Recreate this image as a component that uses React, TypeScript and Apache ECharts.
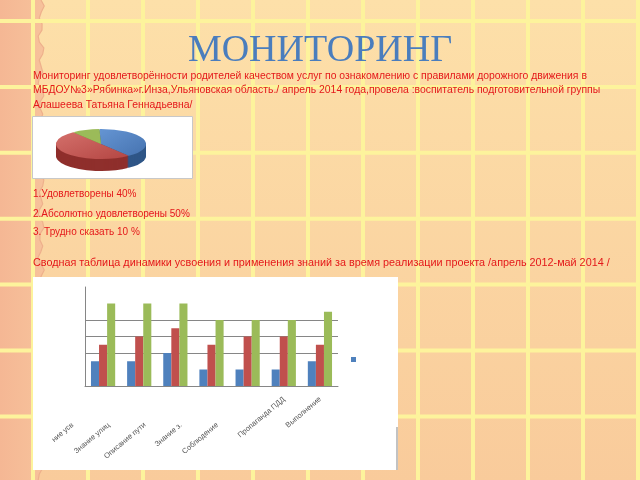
import React, { useEffect, useRef } from "react";
import * as echarts from "echarts";

// ---------- data ----------
const titleText = "МОНИТОРИНГ";
const headerLines = [
  "Мониторинг удовлетворённости родителей качеством услуг по ознакомлению с правилами дорожного движения в",
  "МБДОУ№3»Рябинка»г.Инза,Ульяновская область./ апрель 2014 года,провела :воспитатель подготовительной группы",
  "Алашеева Татьяна Геннадьевна/",
];
const pieNames = ["Удовлетворены", "Абсолютно удовлетворены", "Трудно сказать"];
const pieValues = [40, 50, 10];
const pieLegendLines = [
  "1.Удовлетворены 40%",
  "2.Абсолютно удовлетворены 50%",
  "3. Трудно сказать 10 %",
];
const tableTitle =
  "Сводная таблица динамики усвоения и применения знаний за время реализации проекта /апрель 2012-май 2014 /";

const categories = [
  "ние усв",
  "Знание улиц",
  "Описание пути",
  "Знание з.",
  "Соблюдение",
  "Пропаганда ПДД",
  "Выполнение",
];
const seriesNames = ["Ряд 1", "Ряд 2", "Ряд 3"];
const blueValues = [1.5, 1.5, 2, 1, 1, 1, 1.5];
const redValues = [2.5, 3, 3.5, 2.5, 3, 3, 2.5];
const greenValues = [5, 5, 5, 4, 4, 4, 4.5];
const yMin = 0;
const yMax = 6;
const yInterval = 1;

// ---------- styles ----------
const RED_TEXT = "#e4181a";
const BAR_COLORS = ["#4f81bd", "#c0504d", "#9bbb59"];
const PIE_TOP = [
  new echarts.graphic.LinearGradient(0, 0, 1, 1, [
    { offset: 0, color: "#6595d3" },
    { offset: 1, color: "#4673b0" },
  ]),
  new echarts.graphic.LinearGradient(0, 0, 1, 1, [
    { offset: 0, color: "#d4706b" },
    { offset: 1, color: "#b44643" },
  ]),
  "#9bbb59",
];
const PIE_SIDE = ["#2f5687", "#8f2f2c", "#6c8a35"];
const PIE_RX = 45;
const PIE_RY = 15;
const PIE_SCALE = PIE_RY / PIE_RX;
const PIE_DEPTH = 12; // screen px

function buildBackground() {
  const els: any[] = [];
  els.push({
    type: "rect",
    z: -20,
    shape: { x: 0, y: 0, width: 640, height: 480 },
    style: {
      fill: new echarts.graphic.LinearGradient(0, 0, 0, 1, [
        { offset: 0, color: "#fde0a9" },
        { offset: 1, color: "#f9cb9b" },
      ]),
    },
  });
  // torn left strip
  const edge: number[][] = [];
  for (let y = 0; y <= 480; y += 6) {
    const x = 41 + 2.5 * Math.sin((y / 22) * Math.PI * 2) + 1 * Math.sin(y / 7);
    edge.push([x, y]);
  }
  els.push({
    type: "polygon",
    z: -19,
    shape: { points: [[0, 0], ...edge, [0, 480]] },
    style: {
      fill: new echarts.graphic.LinearGradient(0, 0, 1, 0, [
        { offset: 0, color: "#f5b794" },
        { offset: 1, color: "#f7c29b" },
      ]),
    },
  });
  els.push({
    type: "polyline",
    z: -19,
    shape: { points: edge },
    style: { stroke: "#eeb08c", lineWidth: 1.2, fill: null },
  });
  for (let k = 0; k < 12; k++) {
    const x = 33 + 55 * k;
    els.push({
      type: "line",
      z: -18,
      shape: { x1: x, y1: 0, x2: x, y2: 480 },
      style: { stroke: "#fdf39c", lineWidth: 4 },
    });
  }
  for (let k = 0; k < 7; k++) {
    const y = 21 + 65.9 * k;
    els.push({
      type: "line",
      z: -18,
      shape: { x1: 0, y1: y, x2: 640, y2: y },
      style: { stroke: "#fdf39c", lineWidth: 4 },
    });
  }
  // white boxes
  els.push({
    type: "rect",
    z: -10,
    shape: { x: 32.5, y: 116.5, width: 160, height: 62 },
    style: { fill: "#ffffff", stroke: "#c8c8c8", lineWidth: 1 },
  });
  els.push({
    type: "rect",
    z: -10,
    shape: { x: 33, y: 277, width: 365, height: 193 },
    style: { fill: "#ffffff" },
  });
  els.push({
    type: "line",
    z: -9,
    shape: { x1: 397, y1: 427, x2: 397, y2: 470 },
    style: { stroke: "#9a9a9a", lineWidth: 1.2 },
  });
  // texts
  els.push({
    type: "text",
    x: 320,
    y: 67,
    style: {
      text: titleText,
      font: "38px 'Liberation Serif'",
      fill: "#4a7dbd",
      textAlign: "center",
      textVerticalAlign: "bottom",
    },
  });
  const headerY = [75, 89.5, 104];
  headerLines.forEach((t, i) => {
    els.push({
      type: "text",
      x: 33,
      y: headerY[i],
      style: {
        text: t,
        font: "10.4px 'Liberation Sans'",
        fill: RED_TEXT,
        textAlign: "left",
        textVerticalAlign: "middle",
      },
    });
  });
  const legY = [193, 213, 231];
  pieLegendLines.forEach((t, i) => {
    els.push({
      type: "text",
      x: 33,
      y: legY[i],
      style: {
        text: t,
        font: "10px 'Liberation Sans'",
        fill: RED_TEXT,
        textAlign: "left",
        textVerticalAlign: "middle",
      },
    });
  });
  els.push({
    type: "text",
    x: 33,
    y: 262,
    style: {
      text: tableTitle,
      font: "10.8px 'Liberation Sans'",
      fill: RED_TEXT,
      textAlign: "left",
      textVerticalAlign: "middle",
    },
  });
  return els;
}

function buildMain(): any {
  const values = [blueValues, redValues, greenValues];
  return {
    animation: false,
    graphic: { elements: buildBackground() },
    legend: {
      data: [seriesNames[0]],
      left: 351,
      top: 357,
      padding: 0,
      itemWidth: 5,
      itemHeight: 5,
      icon: "rect",
      selectedMode: false,
      formatter: () => "",
      textStyle: { fontSize: 1 },
    },
    grid: { left: 85, top: 287, width: 253, height: 99 },
    xAxis: {
      type: "category",
      data: categories,
      axisLine: { lineStyle: { color: "#868686" } },
      axisTick: { show: false },
      axisLabel: {
        interval: 0,
        rotate: 40,
        margin: 12,
        fontSize: 7.5,
        color: "#595959",
        fontFamily: "Liberation Sans",
        formatter: (v: string, i: number) => (i < 5 ? v + "{sp|}" : v),
        rich: { sp: { width: 40 } },
      },
    },
    yAxis: {
      type: "value",
      min: yMin,
      max: yMax,
      interval: yInterval,
      axisLabel: { show: false },
      axisTick: { show: false },
      axisLine: { show: true, lineStyle: { color: "#868686" } },
      splitLine: {
        show: true,
        lineStyle: {
          color: [
            "rgba(0,0,0,0)",
            "rgba(0,0,0,0)",
            "#868686",
            "#868686",
            "#868686",
            "rgba(0,0,0,0)",
            "rgba(0,0,0,0)",
          ],
        },
      },
    },
    series: seriesNames.map((n, i) => ({
      type: "bar",
      name: n,
      data: values[i],
      barGap: "0%",
      barCategoryGap: "33%",
      itemStyle: { color: BAR_COLORS[i] },
    })),
  };
}

function buildPie(): any {
  const cx = 60;
  const cy = 60;
  const steps = 12;
  const depthU = PIE_DEPTH / PIE_SCALE;
  const series: any[] = [];
  for (let s = steps; s >= 1; s--) {
    series.push({
      type: "pie",
      radius: PIE_RX,
      center: [cx, cy + (depthU * s) / steps],
      startAngle: 92,
      silent: true,
      label: { show: false },
      labelLine: { show: false },
      data: pieNames.map((n, j) => ({
        name: n,
        value: pieValues[j],
        itemStyle: { color: PIE_SIDE[j] },
      })),
    });
  }
  series.push({
    type: "pie",
    radius: PIE_RX,
    center: [cx, cy],
    startAngle: 92,
    silent: true,
    label: { show: false },
    labelLine: { show: false },
    data: pieNames.map((n, j) => ({
      name: n,
      value: pieValues[j],
      itemStyle: { color: PIE_TOP[j] },
    })),
  });
  return { animation: false, series };
}

export default function App() {
  const mainRef = useRef<HTMLDivElement>(null);
  const pieRef = useRef<HTMLDivElement>(null);
  useEffect(() => {
    const main = echarts.init(mainRef.current!, null, { renderer: "svg" });
    main.setOption(buildMain());
    const pie = echarts.init(pieRef.current!, null, { renderer: "svg" });
    pie.setOption(buildPie());
    return () => {
      main.dispose();
      pie.dispose();
    };
  }, []);
  return (
    <div
      style={{
        position: "fixed",
        left: 0,
        top: 0,
        width: 640,
        height: 480,
        overflow: "hidden",
      }}
    >
      <div
        ref={mainRef}
        style={{ position: "absolute", left: 0, top: 0, width: 640, height: 480 }}
      />
      <div
        ref={pieRef}
        style={{
          position: "absolute",
          left: 101 - 60,
          top: 144 - 60 * PIE_SCALE,
          width: 120,
          height: 160,
          transform: `scaleY(${PIE_SCALE})`,
          transformOrigin: "0 0",
        }}
      />
    </div>
  );
}
